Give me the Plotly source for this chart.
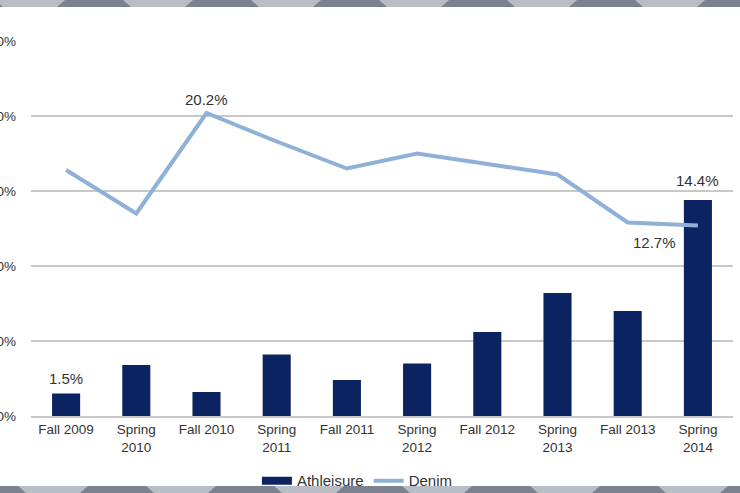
import plotly.graph_objects as go

categories = ["Fall 2009", "Spring<br>2010", "Fall 2010", "Spring<br>2011", "Fall 2011",
              "Spring<br>2012", "Fall 2012", "Spring<br>2013", "Fall 2013", "Spring<br>2014"]
athleisure = [1.5, 3.4, 1.6, 4.1, 2.4, 3.5, 5.6, 8.2, 7.0, 14.4]
denim = [16.4, 13.5, 20.2, 18.3, 16.5, 17.5, 16.8, 16.1, 12.9, 12.7]
y_ticks = [0, 5, 10, 15, 20, 25]
y_tick_text = ["0.0%", "5.0%", "10.0%", "15.0%", "20.0%", "25.0%"]

NAVY = "#0b2461"
LIGHT = "#8fb0d7"
TEXT = "#333333"
FONT = "Liberation Sans, Arial, sans-serif"

fig = go.Figure()
fig.add_trace(go.Bar(
    x=categories, y=athleisure, name="Athleisure", showlegend=False,
    marker=dict(color=NAVY, line=dict(width=0)), width=0.4,
))
# legend swatch for the bars (wide rectangle as in the reference)
fig.add_trace(go.Scatter(
    x=[None], y=[None], name="Athleisure", mode="lines",
    line=dict(color=NAVY, width=8),
))
fig.add_trace(go.Scatter(
    x=categories, y=denim, name="Denim", mode="lines",
    line=dict(color=LIGHT, width=4),
))

# data labels
labels = [
    (categories[0], athleisure[0], 0, 15),
    (categories[9], athleisure[9], 0, 20),
    (categories[2], denim[2], 0, 14),
    (categories[9], denim[9], -43, -17),
]
for x, y, xs, ys in labels:
    fig.add_annotation(x=x, y=y, text=f"{y:.1f}%", showarrow=False,
                       xshift=xs, yshift=ys,
                       font=dict(size=15, color=TEXT, family=FONT))

# decorative strips at the top and bottom
L, T, H = 31, 41, 375
W = 702
def px_x(v):
    return (v - L) / W
def px_y(v):
    return (T + H - v) / H

shapes = []
for (y0, y1, off) in [(0, 7, 57), (486, 493, 80)]:
    shapes.append(dict(type="rect", xref="paper", yref="paper",
                       x0=px_x(0), x1=px_x(740), y0=px_y(y1), y1=px_y(y0),
                       fillcolor="#b9bdc5", line=dict(width=0), layer="below"))
    s = off - 128
    while s < 740:
        shapes.append(dict(type="path", xref="paper", yref="paper",
                           path=(f"M {px_x(s)} {px_y(y1)} L {px_x(s + 8)} {px_y(y0)} "
                                 f"L {px_x(s + 66)} {px_y(y0)} L {px_x(s + 74)} {px_y(y1)} Z"),
                           fillcolor="#7c8190", line=dict(width=0), layer="below"))
        s += 128

fig.update_layout(
    width=740, height=493,
    margin=dict(l=31, r=7, t=41, b=77, autoexpand=False),
    paper_bgcolor="white", plot_bgcolor="white",
    font=dict(family=FONT, size=13.5, color=TEXT),
    showlegend=True,
    legend=dict(orientation="h", x=0.465, xanchor="center", y=-0.173, yanchor="middle",
                font=dict(size=15, color=TEXT), itemwidth=30,
                bgcolor="rgba(0,0,0,0)", tracegroupgap=0),
    shapes=shapes,
    bargap=0.6,
)
fig.update_xaxes(showgrid=False, showline=True, linecolor="#c8c8c8", linewidth=2,
                 ticks="", automargin=False, tickfont=dict(size=13.5, color=TEXT))
fig.update_yaxes(range=[0, 25], tickvals=y_ticks, ticktext=y_tick_text,
                 showgrid=True, gridcolor="#c8c8c8", gridwidth=2, zeroline=False,
                 showline=False, ticks="", automargin=False, ticklabelstandoff=14,
                 tickfont=dict(size=13.5, color=TEXT))

fig.write_html("out.html", config={"displayModeBar": False},
               post_script="document.body.style.margin='0';document.body.style.overflow='hidden';")
